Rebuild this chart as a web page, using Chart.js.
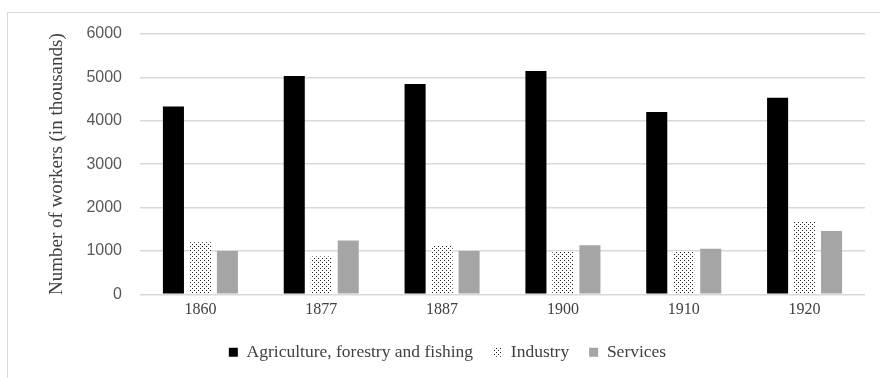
<!DOCTYPE html>
<html>
<head>
<meta charset="utf-8">
<script src="https://cdn.jsdelivr.net/npm/chart.js@4/dist/chart.umd.min.js"></script>
<style>
  html, body { margin: 0; padding: 0; background: #fff; }
  #wrap { position: relative; width: 880px; height: 378px; overflow: hidden; }
  #frame { position: absolute; left: 7px; top: 12px; width: 900px; height: 400px; border: 1px solid #d9d9d9; box-sizing: border-box; }
  #myChart { position: absolute; left: 0; top: 0; }
</style>
</head>
<body>
<div id="wrap">
  <div id="frame"></div>
  <canvas id="myChart" width="880" height="378"></canvas>
</div>
<script>
var years = ["1860", "1877", "1887", "1900", "1910", "1920"];
var agriculture = [4330, 5030, 4850, 5150, 4200, 4530];
var industry = [1200, 870, 1130, 990, 990, 1670];
var services = [1000, 1240, 1000, 1130, 1050, 1460];
var yMin = 0;
var yMax = 6000;
var yStep = 1000;

// small dotted fill for the Industry bars
function dotPattern() {
  var c = document.createElement("canvas");
  c.width = 4;
  c.height = 4;
  var g = c.getContext("2d");
  g.fillStyle = "#ffffff";
  g.fillRect(0, 0, 4, 4);
  g.fillStyle = "#222222";
  g.fillRect(0, 0, 1, 1);
  g.fillRect(2, 2, 1, 1);
  return g.createPattern(c, "repeat");
}

var ctx = document.getElementById("myChart").getContext("2d");
var dots = dotPattern();

var chart = new Chart(ctx, {
  type: "bar",
  data: {
    labels: years,
    datasets: [
      { label: "Agriculture, forestry and fishing", data: agriculture, backgroundColor: "#000000", borderWidth: 0 },
      { label: "Industry", data: industry, backgroundColor: dots, borderWidth: 0 },
      { label: "Services", data: services, backgroundColor: "#a5a5a5", borderWidth: 0 }
    ]
  },
  options: {
    responsive: false,
    animation: false,
    // wider left padding pushes the centred legend to the right like the original
    layout: { padding: { left: 30, right: 15, top: 34, bottom: 7 } },
    datasets: { bar: { categoryPercentage: 0.67, barPercentage: 0.78 } },
    scales: {
      x: {
        grid: { display: false, tickLength: 2 },
        border: { display: false },
        ticks: { color: "#404040", font: { family: "Liberation Serif", size: 16 }, padding: 4 }
      },
      y: {
        min: yMin,
        max: yMax,
        ticks: {
          stepSize: yStep,
          color: "#595959",
          font: { family: "Liberation Sans", size: 16 },
          padding: 18,
          callback: function (v) { return String(v); }
        },
        grid: { color: "#d9d9d9", drawTicks: false, lineWidth: 1.5 },
        border: { display: false },
        title: {
          display: true,
          text: "Number of workers (in thousands)",
          color: "#404040",
          font: { family: "Liberation Serif", size: 19 },
          padding: { top: 16, bottom: 0 }
        },
        afterFit: function (s) { s.width = 110; }
      }
    },
    plugins: {
      legend: {
        position: "bottom",
        labels: {
          color: "#404040",
          font: { family: "Liberation Serif", size: 17.5 },
          boxWidth: 9,
          boxHeight: 9,
          padding: 20
        }
      },
      tooltip: { enabled: false }
    }
  }
});
</script>
</body>
</html>
